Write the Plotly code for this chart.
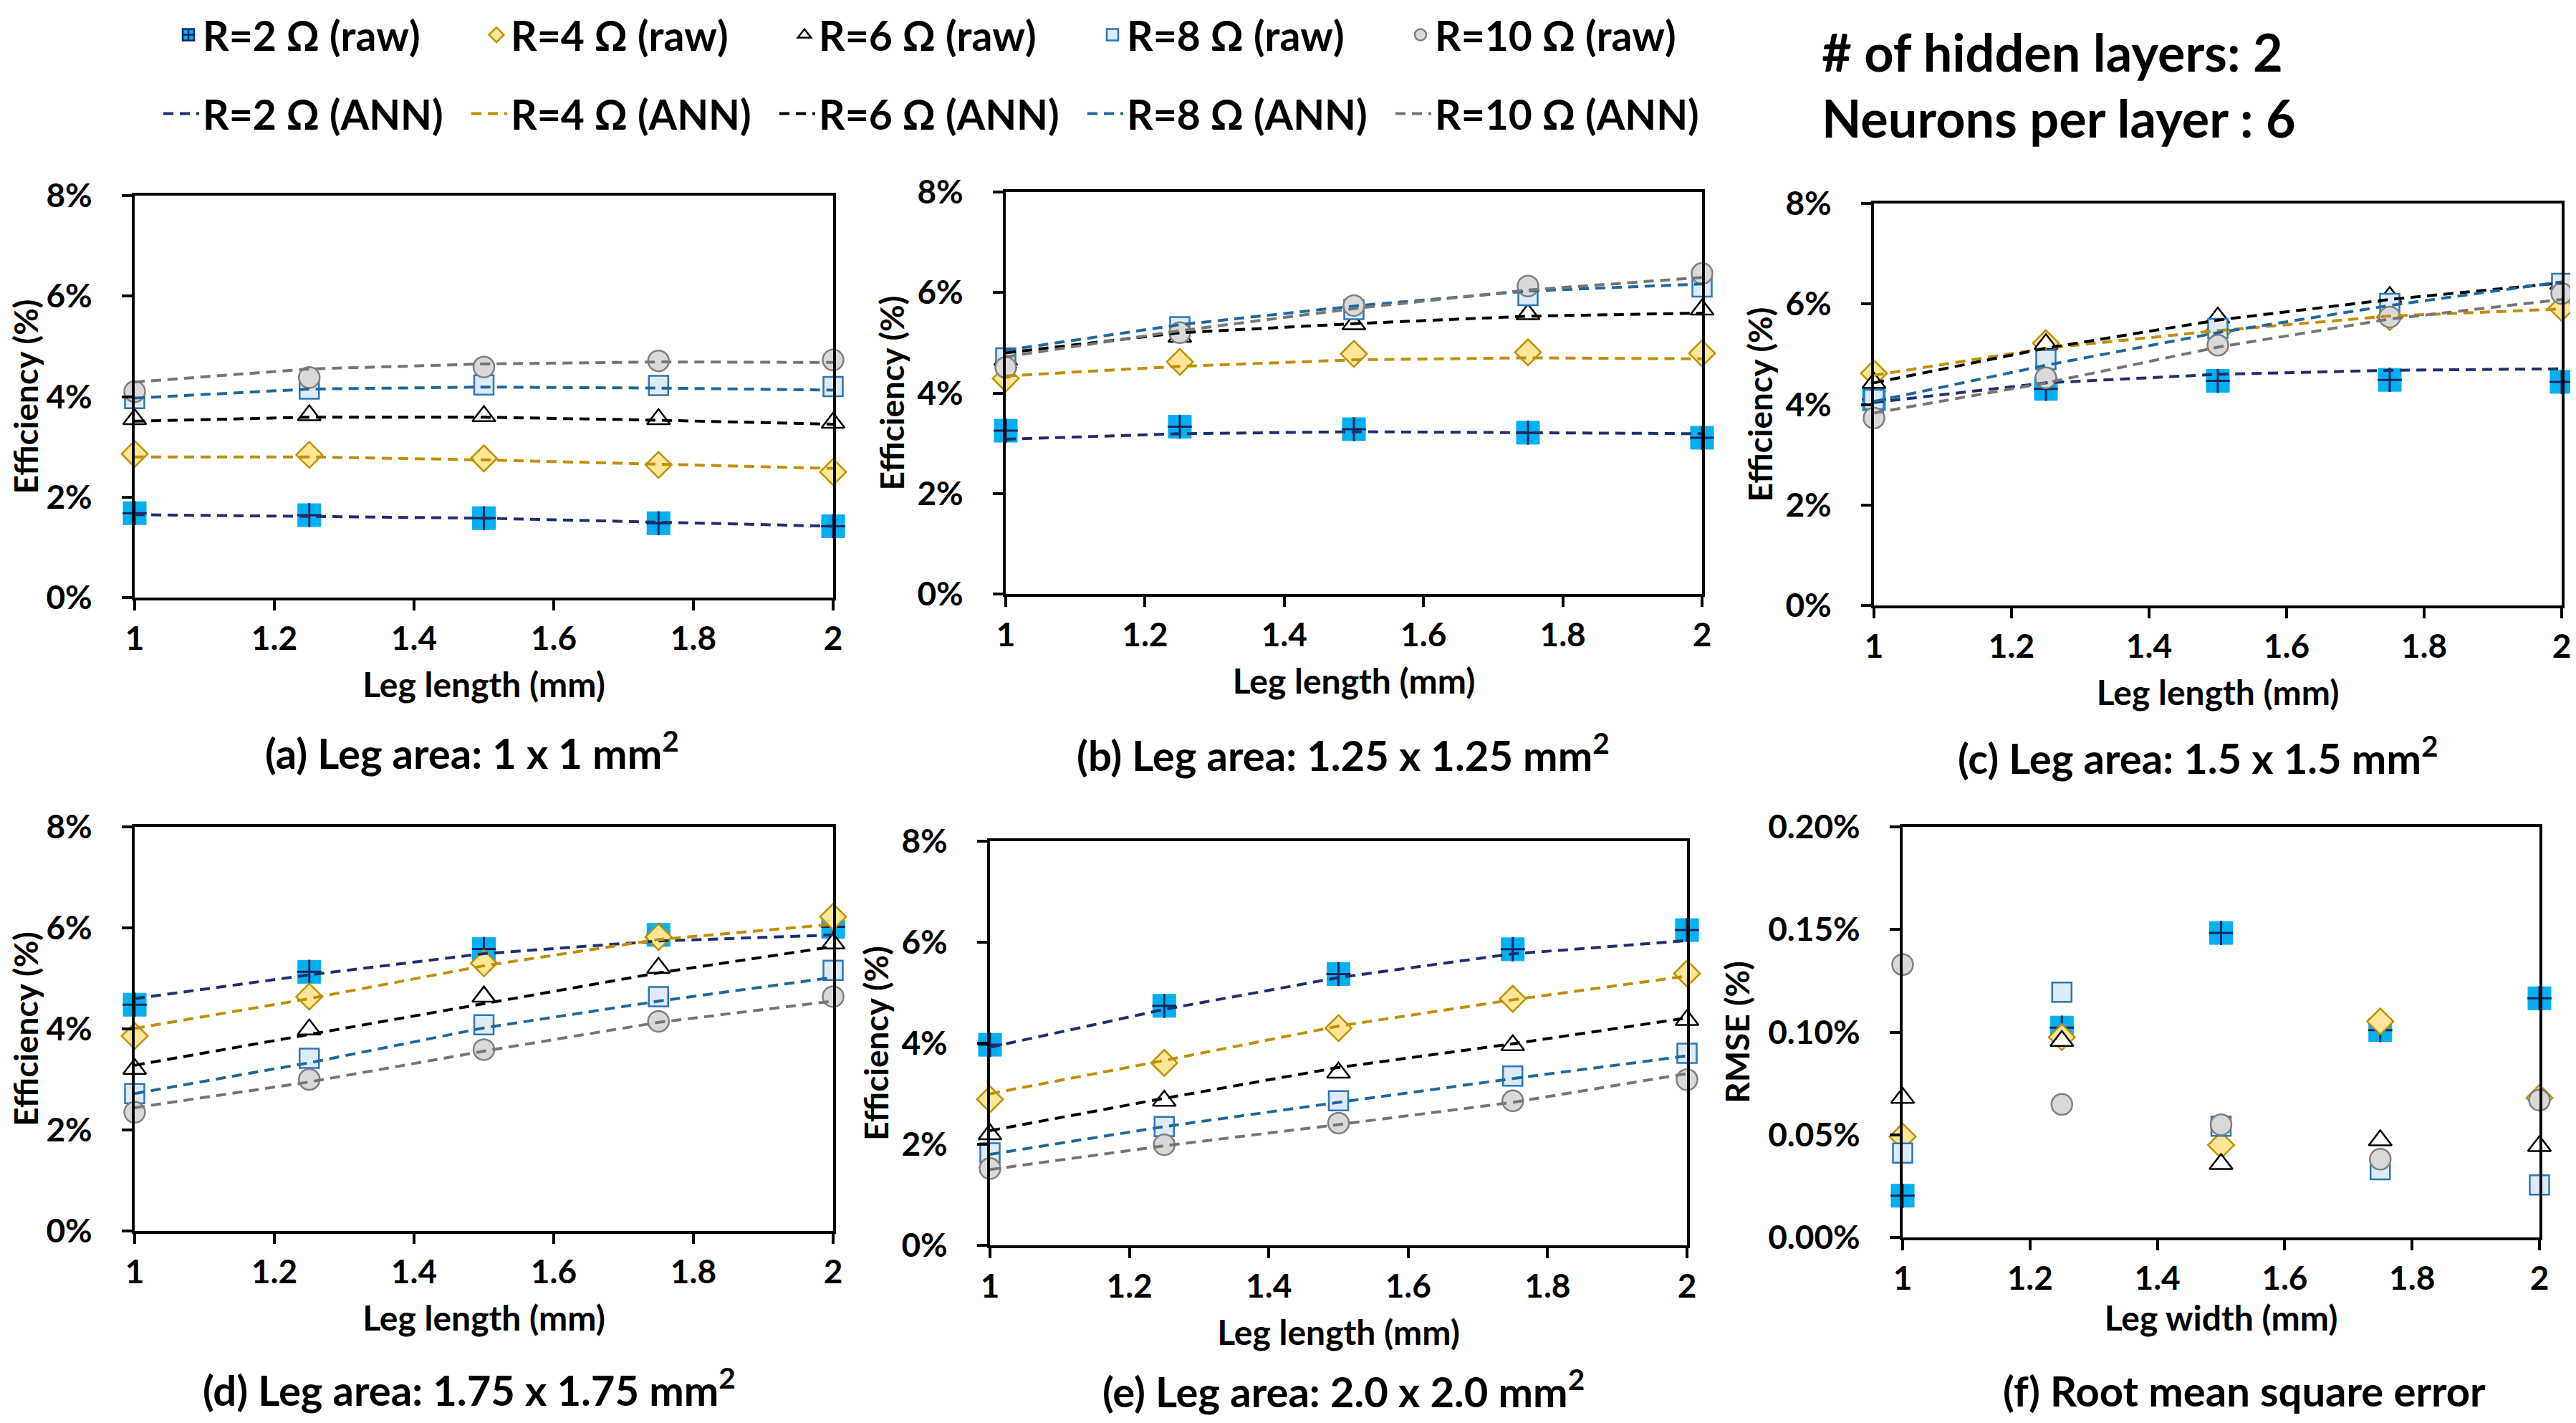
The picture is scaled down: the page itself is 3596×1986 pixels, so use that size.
import plotly.graph_objects as go

# ---------------- data ----------------
leg_length = [1.0, 1.25, 1.5, 1.75, 2.0]
series_names = ["R=2 Ω", "R=4 Ω", "R=6 Ω", "R=8 Ω", "R=10 Ω"]
x_tick_vals = [1, 1.2, 1.4, 1.6, 1.8, 2]
eff_tick_vals = [0, 2, 4, 6, 8]
rmse_tick_vals = [0, 0.05, 0.10, 0.15, 0.20]

# efficiency in %, rows: R=2,4,6,8,10 ; columns: leg length 1..2 mm
a_raw = [[1.68, 1.64, 1.58, 1.48, 1.42],
         [2.86, 2.84, 2.77, 2.64, 2.50],
         [3.55, 3.63, 3.61, 3.55, 3.48],
         [3.96, 4.15, 4.23, 4.22, 4.20],
         [4.10, 4.38, 4.59, 4.71, 4.73]]
a_ann = [[1.65, 1.62, 1.58, 1.50, 1.42],
         [2.80, 2.80, 2.74, 2.66, 2.57],
         [3.51, 3.59, 3.59, 3.53, 3.45],
         [3.97, 4.15, 4.19, 4.17, 4.13],
         [4.29, 4.55, 4.65, 4.69, 4.68]]

b_raw = [[3.25, 3.33, 3.28, 3.21, 3.11],
         [4.29, 4.62, 4.78, 4.81, 4.79],
         [4.66, 5.12, 5.37, 5.57, 5.66],
         [4.70, 5.32, 5.66, 5.94, 6.11],
         [4.51, 5.20, 5.74, 6.13, 6.38]]
b_ann = [[3.08, 3.19, 3.23, 3.21, 3.19],
         [4.34, 4.53, 4.66, 4.70, 4.68],
         [4.80, 5.20, 5.38, 5.53, 5.59],
         [4.85, 5.36, 5.73, 6.03, 6.17],
         [4.72, 5.24, 5.68, 6.05, 6.30]]

c_raw = [[4.10, 4.31, 4.47, 4.49, 4.45],
         [4.62, 5.22, 5.45, 5.74, 5.92],
         [4.43, 5.20, 5.73, 6.14, 6.40],
         [4.10, 4.89, 5.51, 6.01, 6.41],
         [3.73, 4.53, 5.18, 5.74, 6.21]]
c_ann = [[4.04, 4.43, 4.60, 4.68, 4.71],
         [4.58, 5.12, 5.47, 5.76, 5.90],
         [4.43, 5.12, 5.68, 6.09, 6.42],
         [4.06, 4.78, 5.43, 5.97, 6.44],
         [3.83, 4.43, 5.14, 5.70, 6.09]]

d_raw = [[4.48, 5.13, 5.58, 5.86, 6.02],
         [3.86, 4.64, 5.30, 5.82, 6.22],
         [3.21, 3.99, 4.64, 5.21, 5.69],
         [2.72, 3.42, 4.08, 4.64, 5.16],
         [2.35, 3.00, 3.59, 4.15, 4.64]]
d_ann = [[4.60, 5.07, 5.49, 5.74, 5.86],
         [4.01, 4.60, 5.25, 5.77, 6.07],
         [3.28, 3.89, 4.50, 5.11, 5.63],
         [2.72, 3.33, 4.02, 4.55, 5.02],
         [2.44, 2.95, 3.56, 4.13, 4.55]]

e_raw = [[3.97, 4.74, 5.37, 5.86, 6.24],
         [2.89, 3.61, 4.30, 4.88, 5.38],
         [2.20, 2.86, 3.42, 3.96, 4.46],
         [1.83, 2.35, 2.86, 3.35, 3.80],
         [1.52, 1.99, 2.42, 2.86, 3.28]]
e_ann = [[3.92, 4.67, 5.30, 5.77, 6.03],
         [3.00, 3.66, 4.34, 4.86, 5.33],
         [2.27, 2.91, 3.52, 3.99, 4.50],
         [1.80, 2.35, 2.83, 3.30, 3.75],
         [1.50, 1.97, 2.39, 2.83, 3.40]]

# RMSE in %, rows R=2..10, columns leg width 1..2 mm
f_rmse = [[0.0203, 0.1022, 0.1483, 0.1010, 0.1165],
          [0.0491, 0.0976, 0.0450, 0.1052, 0.0680],
          [0.0680, 0.0957, 0.0358, 0.0473, 0.0445],
          [0.0411, 0.1195, 0.0542, 0.0330, 0.0256],
          [0.1329, 0.0648, 0.0549, 0.0381, 0.0669]]

captions = ["(a) Leg area: 1 x 1 mm<sup>2</sup>",
            "(b) Leg area: 1.25 x 1.25 mm<sup>2</sup>",
            "(c) Leg area: 1.5 x 1.5 mm<sup>2</sup>",
            "(d) Leg area: 1.75 x 1.75 mm<sup>2</sup>",
            "(e) Leg area: 2.0 x 2.0 mm<sup>2</sup>",
            "(f) Root mean square error"]

# ---------------- styling / layout ----------------
W, H = 3596, 1986
FONT = "Lato"
CYAN, NAVY = "#00B0F0", "#14245E"

legend_r2_marker = dict(symbol="square-cross", size=29, color=CYAN, line=dict(color=NAVY, width=2.5))
r2_square = dict(symbol="square", size=32, color=CYAN, line=dict(color=CYAN, width=1))
r2_cross = dict(symbol="cross-thin", size=24, color=NAVY, line=dict(color=NAVY, width=3))
raw_markers = [
    None,
    dict(symbol="diamond", size=28, color="#FFE699", line=dict(color="#BF9000", width=2.5)),
    dict(symbol="triangle-up", size=28, color="#FFFFFF", line=dict(color="#000000", width=2.5)),
    dict(symbol="square", size=27, color="#DDEBF7", line=dict(color="#2E75B6", width=2.5)),
    dict(symbol="circle", size=29, color="#D9D9D9", line=dict(color="#7F7F7F", width=2.5)),
]
ann_colors = ["#1F2F6E", "#BF9000", "#000000", "#22679B", "#767676"]
DASH = "14px,9px"

# panel boxes in pixels: left, right, top, bottom
boxes = [(180, 1155, 265, 826), (1396, 2368, 260, 821), (2608, 3568, 276, 837),
         (180, 1155, 1146, 1710), (1374, 2347, 1166, 1730), (2648, 3537, 1146, 1719)]
caption_pos = [(651, 1039), (1867, 1042), (3060, 1046),
               (647, 1928), (1867, 1930), (3125, 1932)]

eff_panels = [(a_raw, a_ann), (b_raw, b_ann), (c_raw, c_ann),
              (d_raw, d_ann), (e_raw, e_ann)]


def add_raw(fig, xa, ya, rows, show_legend):
    # R = 2 ohm: cyan square with a navy cross
    if show_legend:
        fig.add_trace(go.Scatter(x=leg_length, y=rows[0], mode="markers", xaxis=xa, yaxis=ya,
                                 marker=legend_r2_marker, cliponaxis=False,
                                 name=f"{series_names[0]} (raw)", legend="legend",
                                 showlegend=True))
    fig.add_trace(go.Scatter(x=leg_length, y=rows[0], mode="markers", xaxis=xa, yaxis=ya,
                             marker=r2_square, cliponaxis=False, showlegend=False,
                             name=f"{series_names[0]} (raw)"))
    fig.add_trace(go.Scatter(x=leg_length, y=rows[0], mode="markers", xaxis=xa, yaxis=ya,
                             marker=r2_cross, cliponaxis=False, showlegend=False,
                             name=f"{series_names[0]} (raw)"))
    for i in range(1, 5):
        fig.add_trace(go.Scatter(x=leg_length, y=rows[i], mode="markers", xaxis=xa, yaxis=ya,
                                 marker=raw_markers[i], cliponaxis=False,
                                 name=f"{series_names[i]} (raw)", legend="legend",
                                 showlegend=show_legend))


fig = go.Figure()

for p, (raw, ann) in enumerate(eff_panels):
    xa = "x" if p == 0 else f"x{p+1}"
    ya = "y" if p == 0 else f"y{p+1}"
    add_raw(fig, xa, ya, raw, p == 0)
    for i in range(5):
        fig.add_trace(go.Scatter(
            x=leg_length, y=ann[i], mode="lines", xaxis=xa, yaxis=ya,
            line=dict(color=ann_colors[i], width=4, dash=DASH),
            name=f"{series_names[i]} (ANN)", legend="legend2",
            showlegend=(p == 0)))

add_raw(fig, "x6", "y6", f_rmse, False)

TICK_FONT = dict(family=FONT, size=46, color="black", weight="bold")
axis_common = dict(showline=True, linecolor="black", linewidth=4, mirror=True,
                   ticks="outside", ticklen=14, tickwidth=4, tickcolor="black",
                   showgrid=False, zeroline=False, automargin=False,
                   tickfont=TICK_FONT)

layout = dict(width=W, height=H,
              margin=dict(l=0, r=0, t=0, b=0, autoexpand=False),
              plot_bgcolor="white", paper_bgcolor="white",
              font=dict(family=FONT, color="black", weight="bold"))

for p, (l, r, t, b) in enumerate(boxes):
    kx = "xaxis" if p == 0 else f"xaxis{p+1}"
    ky = "yaxis" if p == 0 else f"yaxis{p+1}"
    xid = "x" if p == 0 else f"x{p+1}"
    yid = "y" if p == 0 else f"y{p+1}"
    xtitle = "Leg width (mm)" if p == 5 else "Leg length (mm)"
    layout[kx] = dict(axis_common, domain=[l / W, r / W], anchor=yid,
                      range=[1, 2], tickvals=x_tick_vals,
                      ticktext=[f"{v:g}" for v in x_tick_vals],
                      title=dict(text=xtitle, standoff=10 if p == 5 else 24,
                                 font=dict(family=FONT, size=48, color="black", weight="bold")))
    if p == 5:
        layout[ky] = dict(axis_common, domain=[1 - b / H, 1 - t / H], anchor=xid,
                          range=[0, 0.2], tickvals=rmse_tick_vals,
                          ticktext=[f"{v:.2f}%" for v in rmse_tick_vals],
                          ticklabelstandoff=32,
                          title=dict(text="RMSE (%)", standoff=12,
                                     font=dict(family=FONT, size=46, color="black", weight="bold")))
    else:
        layout[ky] = dict(axis_common, domain=[1 - b / H, 1 - t / H], anchor=xid,
                          range=[0, 8], tickvals=eff_tick_vals,
                          ticktext=[f"{v:g}%" for v in eff_tick_vals],
                          ticklabelstandoff=32,
                          title=dict(text="Efficiency (%)", standoff=4,
                                     font=dict(family=FONT, size=46, color="black", weight="bold")))

LEG_FONT = dict(family=FONT, size=57, color="black", weight="bold")
layout["legend"] = dict(orientation="h", xanchor="left", yanchor="middle",
                        bgcolor="rgba(0,0,0,0)", entrywidth=385, entrywidthmode="pixels",
                        itemwidth=30, font=LEG_FONT, x=235 / W, y=1 - 41 / H)
layout["legend2"] = dict(orientation="h", xanchor="left", yanchor="middle",
                         bgcolor="rgba(0,0,0,0)", entrywidth=365, entrywidthmode="pixels",
                         itemwidth=50, font=LEG_FONT, x=215 / W, y=1 - 151 / H)

annotations = []
for (cx, cy), txt in zip(caption_pos, captions):
    annotations.append(dict(text=txt, x=cx / W, y=1 - cy / H, xref="paper", yref="paper",
                            xanchor="center", yanchor="middle", showarrow=False,
                            font=dict(family=FONT, size=58, color="black", weight="bold")))
annotations.append(dict(text="# of hidden layers: 2", x=2533 / W, y=1 - 64 / H,
                        xref="paper", yref="paper", xanchor="left", yanchor="middle",
                        showarrow=False,
                        font=dict(family=FONT, size=72, color="black", weight="bold")))
annotations.append(dict(text="Neurons per layer : 6", x=2533 / W, y=1 - 156 / H,
                        xref="paper", yref="paper", xanchor="left", yanchor="middle",
                        showarrow=False,
                        font=dict(family=FONT, size=72, color="black", weight="bold")))
layout["annotations"] = annotations

fig.update_layout(**layout)
fig.write_html("out.html")
